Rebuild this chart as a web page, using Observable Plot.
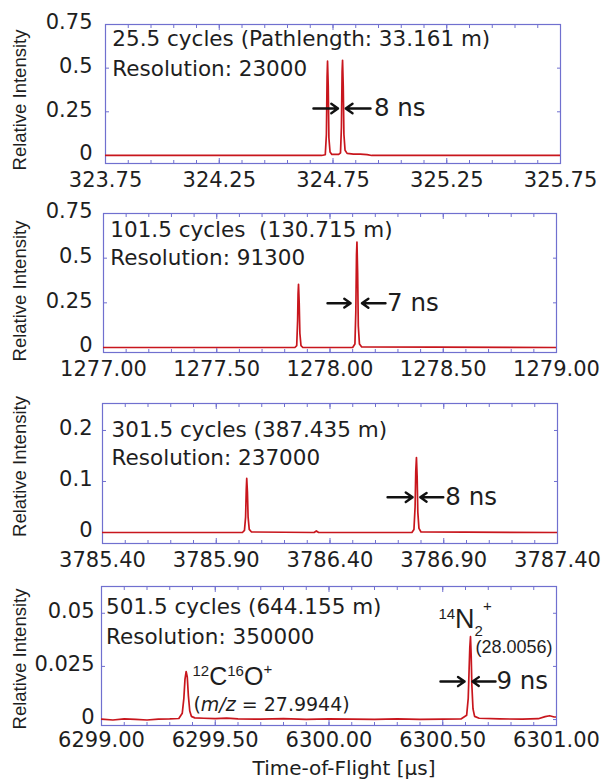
<!DOCTYPE html>
<html><head><meta charset="utf-8">
<script src="https://cdn.jsdelivr.net/npm/d3@7"></script>
<script src="https://cdn.jsdelivr.net/npm/@observablehq/plot@0.6"></script>
<style>
body{margin:0;background:#fff;}
#chart{width:604px;height:784px;overflow:hidden;background:#fff;}
#chart svg{display:block;background:#fff;}
</style></head><body><div id="chart"></div>
<script>
// ---------------- data (time-of-flight in µs, relative intensity) ----------------
const spectrum1 = [
  [323.75, 0], [324.70, 0], [324.716, 0.004], [324.721, 0.12], [324.724, 0.45], [324.726, 0.54],
  [324.729, 0.40], [324.732, 0.10], [324.737, 0.02], [324.745, 0.006], [324.775, 0.006],
  [324.783, 0.015], [324.787, 0.16], [324.790, 0.48], [324.792, 0.545], [324.795, 0.40],
  [324.798, 0.12], [324.803, 0.03], [324.812, 0.012], [324.84, 0.008], [324.87, 0.008],
  [324.90, 0.005], [324.92, 0], [325.75, 0]
];
const spectrum2 = [
  [1277.00, 0], [1277.845, 0], [1277.853, 0.01], [1277.857, 0.15], [1277.859, 0.30], [1277.861, 0.354],
  [1277.864, 0.25], [1277.867, 0.08], [1277.872, 0.01], [1277.88, 0], [1278.10, 0], [1278.11, 0.02],
  [1278.114, 0.2], [1278.117, 0.52], [1278.119, 0.59], [1278.122, 0.42], [1278.125, 0.12],
  [1278.13, 0.02], [1278.14, 0.003], [1279.00, 0]
];
const spectrum3 = [
  [3785.40, 0], [3786.015, 0], [3786.024, 0.004], [3786.029, 0.03], [3786.032, 0.085], [3786.034, 0.106],
  [3786.037, 0.08], [3786.040, 0.03], [3786.045, 0.006], [3786.055, 0.001], [3786.33, 0], [3786.34, 0.003],
  [3786.35, 0], [3786.76, 0], [3786.769, 0.006], [3786.774, 0.05], [3786.777, 0.12], [3786.780, 0.147],
  [3786.783, 0.11], [3786.786, 0.04], [3786.791, 0.008], [3786.80, 0.001], [3787.40, 0]
];
const spectrum4 = [
  [6299.00, 0.0002], [6299.05, -0.0002], [6299.10, 0.0003], [6299.15, 0.0001], [6299.20, -0.0002],
  [6299.25, 0.0002], [6299.30, 0.0003], [6299.34, 0.0005], [6299.355, 0.003], [6299.362, 0.010],
  [6299.367, 0.019], [6299.372, 0.0226], [6299.377, 0.020], [6299.382, 0.011], [6299.388, 0.004],
  [6299.395, 0.0015], [6299.41, 0.0008], [6299.45, 0.0006], [6299.50, 0.0004], [6299.55, 0.0007],
  [6299.60, 0.0003], [6299.70, 0.0002], [6299.80, 0.0004], [6299.90, 0.0001], [6300.00, 0.0003],
  [6300.10, 0.0002], [6300.20, 0.0001], [6300.30, 0.0003], [6300.40, 0.0001], [6300.50, 0.0002],
  [6300.58, 0.0003], [6300.605, 0.002], [6300.612, 0.010], [6300.616, 0.024], [6300.619, 0.034],
  [6300.622, 0.039], [6300.625, 0.030], [6300.628, 0.016], [6300.633, 0.005], [6300.64, 0.0015],
  [6300.66, 0.0006], [6300.75, 0.0003], [6300.85, 0.0002], [6300.92, 0.0004], [6300.95, 0.0014],
  [6300.97, 0.0018], [6300.99, 0.0012], [6301.00, 0.0012]
];

const xTicks1 = [323.75, 324.25, 324.75, 325.25, 325.75];
const xTicks2 = [1277.00, 1277.50, 1278.00, 1278.50, 1279.00];
const xTicks3 = [3785.40, 3785.90, 3786.40, 3786.90, 3787.40];
const xTicks4 = [6299.00, 6299.50, 6300.00, 6300.50, 6301.00];

const yTicks1 = [0, 0.25, 0.5, 0.75];
const yTicks2 = [0, 0.25, 0.5, 0.75];
const yTicks3 = [0, 0.1, 0.2];
const yTicks4 = [0, 0.025, 0.05];

const notes1 = ["25.5 cycles (Pathlength: 33.161 m)", "Resolution: 23000"];
const notes2 = ["101.5 cycles\u00a0 (130.715 m)", "Resolution: 91300"];
const notes3 = ["301.5 cycles (387.435 m)", "Resolution: 237000"];
const notes4 = ["501.5 cycles (644.155 m)", "Resolution: 350000"];
const widthLabels = ["8 ns", "7 ns", "8 ns", "9 ns"];
const yTitle = "Relative Intensity";
const xTitle = "Time-of-Flight [\u03bcs]";
const coLabel = "12C16O+";
const coMass = "(m/z = 27.9944)";
const n2Label = "14N2+";
const n2Mass = "(28.0056)";

// ---------------- layout (positions in data units / pixels) ----------------
const FRAME = "#7070cf", RED = "#c8161d", INK = "#1e1e1e", ARROW = "#111";
const HFONT = "DejaVu Sans", VFONT = "Liberation Sans";

const layout = [
  {data: spectrum1, xTicks: xTicks1, yTicks: yTicks1, notes: notes1, xDomain: [323.75, 325.75], yDomain: [-0.046, 0.75],
   ml: 105, mr: 44, mt: 24, mb: 32, h: 139, tickPad: 13, labelDy: 6, xPad: 9,
   noteX: 323.78, noteY: [0.664, 0.492], wX: 324.93, wY: 0.269,
   arrows: [[324.664, 324.772], [324.915, 324.806]]},
  {data: spectrum2, xTicks: xTicks2, yTicks: yTicks2, notes: notes2, xDomain: [1277, 1279], yDomain: [-0.028, 0.75],
   ml: 103, mr: 48, mt: 18, mb: 31, h: 139, tickPad: 11, labelDy: 8, xPad: 9,
   noteX: 1277.03, noteY: [0.655, 0.501], wX: 1278.252, wY: 0.248,
   arrows: [[1277.989, 1278.091], [1278.245, 1278.141]]},
  {data: spectrum3, xTicks: xTicks3, yTicks: yTicks3, notes: notes3, xDomain: [3785.4, 3787.4], yDomain: [-0.0216, 0.2529],
   ml: 102, mr: 47, mt: 20, mb: 31, h: 140, tickPad: 10, labelDy: -7, xPad: 9,
   noteX: 3785.44, noteY: [0.2, 0.145], wX: 3786.907, wY: 0.069,
   arrows: [[3786.653, 3786.763], [3786.898, 3786.797]]},
  {data: spectrum4, xTicks: xTicks4, yTicks: yTicks4, notes: notes4, xDomain: [6299, 6301], yDomain: [-0.0028, 0.0626],
   ml: 101, mr: 48, mt: 12, mb: 59, h: 139, tickPad: 7, labelDy: 3, xPad: 7,
   noteX: 6299.02, noteY: [0.0528, 0.039], wX: 6300.736, wY: 0.0179,
   arrows: [[6300.490, 6300.596], [6300.732, 6300.631]]}
];

function richText(svg, match, parts) {
  const ns = "http://www.w3.org/2000/svg";
  svg.querySelectorAll("text").forEach(t => {
    if (t.textContent !== match) return;
    t.textContent = "";
    for (const p of parts) {
      const s = document.createElementNS(ns, "tspan");
      s.textContent = p.t;
      if (p.size) s.setAttribute("font-size", p.size);
      if (p.dy) s.setAttribute("dy", p.dy);
      if (p.italic) s.setAttribute("font-style", "italic");
      t.appendChild(s);
    }
  });
}

const root = document.getElementById("chart");
layout.forEach((L, i) => {
  const [x0] = L.xDomain;
  const minor = d3.range(0, 21).map(k => +(x0 + k * 0.1).toFixed(3));
  const noteData = L.notes.map((t, j) => ({t, x: L.noteX, y: L.noteY[j]}));
  const marks = [
    Plot.frame({stroke: FRAME, strokeWidth: 1.2}),
    Plot.axisX(minor, {anchor: "bottom", tickSize: -3, stroke: FRAME, fill: "none", label: null}),
    Plot.axisX(minor, {anchor: "top", tickSize: -3, stroke: FRAME, fill: "none", label: null}),
    Plot.axisX(L.xTicks, {anchor: "bottom", tickSize: -5, stroke: FRAME, fill: "none", label: null}),
    Plot.axisX(L.xTicks, {anchor: "top", tickSize: -5, stroke: FRAME, fill: "none", label: null}),
    Plot.axisX(L.xTicks, {anchor: "bottom", tickSize: 0, tickPadding: L.xPad, tickFormat: d => d.toFixed(2),
      fontSize: 21, fontFamily: HFONT, fill: INK, label: null}),
    Plot.axisY(L.yTicks, {anchor: "left", tickSize: -4, stroke: FRAME, fill: "none", label: null}),
    Plot.axisY(L.yTicks, {anchor: "right", tickSize: -4, stroke: FRAME, fill: "none", label: null}),
    Plot.axisY(L.yTicks, {anchor: "left", tickSize: 0, tickPadding: L.tickPad, tickFormat: d => String(d),
      fontSize: 21, fontFamily: HFONT, fill: INK, label: null, dy: -2}),
    Plot.line(L.data, {x: d => d[0], y: d => d[1], stroke: RED, strokeWidth: 1.7, clip: true}),
    Plot.text(noteData, {x: "x", y: "y", text: "t", textAnchor: "start", fontSize: 21.5, fontFamily: HFONT, fill: INK}),
    Plot.arrow(L.arrows, {x1: d => d[0], x2: d => d[1], y1: () => L.wY, y2: () => L.wY,
      stroke: ARROW, strokeWidth: 2.4, headLength: 9, headAngle: 70}),
    Plot.text([widthLabels[i]], {x: () => L.wX, y: () => L.wY, text: d => d, textAnchor: "start",
      fontSize: 24.5, fontFamily: HFONT, fill: INK}),
    Plot.text([yTitle], {frameAnchor: "left", rotate: -90, dx: 20 - L.ml, dy: L.labelDy,
      textAnchor: "middle", lineAnchor: "middle", fontSize: 18.5, fontFamily: VFONT, fill: INK})
  ];
  if (i === 3) {
    marks.push(
      Plot.text([coLabel], {x: () => 6299.400, y: () => 0.0198, text: d => d, textAnchor: "start", fontSize: 25, fontFamily: VFONT, fill: INK}),
      Plot.text([coMass], {x: () => 6299.404, y: () => 0.0071, text: d => d, textAnchor: "start", fontSize: 19, fontFamily: HFONT, fill: INK}),
      Plot.text([n2Label], {x: () => 6300.481, y: () => 0.0473, text: d => d, textAnchor: "start", fontSize: 27, fontFamily: VFONT, fill: INK}),
      Plot.text([n2Mass], {x: () => 6300.644, y: () => 0.0339, text: d => d, textAnchor: "start", fontSize: 18, fontFamily: VFONT, fill: INK}),
      Plot.text([xTitle], {frameAnchor: "bottom", dx: 15, dy: 43, textAnchor: "middle", lineAnchor: "middle",
        fontSize: 20, fontFamily: HFONT, fill: INK})
    );
  }
  const svg = Plot.plot({
    width: 604,
    height: L.mt + L.h + L.mb,
    marginLeft: L.ml, marginRight: L.mr, marginTop: L.mt, marginBottom: L.mb,
    x: {domain: L.xDomain},
    y: {domain: L.yDomain},
    style: {background: "#fff", color: INK, fontFamily: HFONT},
    marks
  });
  if (i === 3) {
    richText(svg, coLabel, [
      {t: "12", size: 15, dy: -9}, {t: "C", size: 25, dy: 9}, {t: "16", size: 15, dy: -9},
      {t: "O", size: 25, dy: 9}, {t: "+", size: 15, dy: -11}
    ]);
    richText(svg, n2Label, [
      {t: "14", size: 15, dy: -9}, {t: "N", size: 27, dy: 9}, {t: "2", size: 15, dy: 8},
      {t: "+", size: 15, dy: -25}
    ]);
    richText(svg, coMass, [
      {t: "("}, {t: "m/z", italic: true}, {t: " = 27.9944)"}
    ]);
  }
  root.appendChild(svg);
});
</script>
</body></html>
